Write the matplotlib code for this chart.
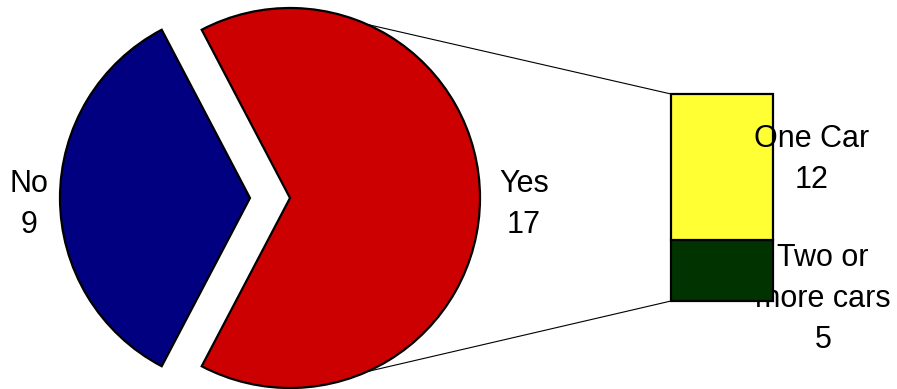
import numpy as np
import matplotlib
matplotlib.use("Agg")
import matplotlib.pyplot as plt
from matplotlib.patches import ConnectionPatch

plt.rcParams['font.family'] = ['Liberation Sans', 'DejaVu Sans']

# Main question: does the household own a car?
pie_labels = ["Yes", "No"]
pie_values = [17, 9]
pie_colors = ["#CC0000", "#000080"]

# Breakdown of the "Yes" answers
bar_labels = ["Two or\nmore cars", "One Car"]
bar_values = [5, 12]
bar_colors = ["#003300", "#FFFF33"]

W, H = 897, 389
fig = plt.figure(figsize=(W / 100, H / 100), dpi=100)
ax = fig.add_axes([0, 0, 1, 1])

center = (270, 191)
radius = 190
total = sum(pie_values)
start = -360 * pie_values[0] / total / 2
wedges, _ = ax.pie(pie_values, colors=pie_colors, center=center, radius=radius,
                   startangle=start, explode=[20, 20], frame=True,
                   wedgeprops=dict(edgecolor="black", linewidth=1.6))
ax.set_xlim(0, W)
ax.set_ylim(0, H)
ax.set_aspect("equal")
ax.axis("off")

fs = 22
PITCH = 41


def stacked_text(axis, x, y_base, text, **kw):
    """Write multi-line text, one baseline every PITCH pixels (y_base is the first line)."""
    for i, line in enumerate(text.split("\n")):
        axis.text(x, H - (y_base + i * PITCH), line, ha="center", va="baseline",
                  fontsize=fs, transform=ax.transData, **kw)


stacked_text(ax, 524, 192, f"{pie_labels[0]}\n{pie_values[0]}")
stacked_text(ax, 29, 192, f"{pie_labels[1]}\n{pie_values[1]}")
# lower bar label sits beneath the bar
stacked_text(ax, 823, 266, f"{bar_labels[0]}\n{bar_values[0]}")

# Stacked bar for the breakdown
bx0, by0, bw, bh = 671, H - 301, 102, 207
bax = fig.add_axes([bx0 / W, by0 / H, bw / W, bh / H])
bottom = 0
for val, col in zip(bar_values, bar_colors):
    bax.bar(0, val, width=1, bottom=bottom, color=col, edgecolor="black",
            linewidth=1.6, clip_on=False)
    bottom += val
bax.set_xlim(-0.5, 0.5)
bax.set_ylim(0, sum(bar_values))
bax.axis("off")

stacked_text(bax, 812, 147, f"{bar_labels[1]}\n{bar_values[1]}", zorder=10)

# Connector lines from the "Yes" wedge to the bar
yes = wedges[0]
cx, cy = yes.center
for ang, yb in [(66, sum(bar_values)), (-66, 0)]:
    pa = (cx + yes.r * np.cos(np.radians(ang)), cy + yes.r * np.sin(np.radians(ang)))
    con = ConnectionPatch(xyA=pa, coordsA=ax.transData, xyB=(-0.5, yb),
                          coordsB=bax.transData, color="black", linewidth=0.8)
    fig.add_artist(con)

fig.savefig("out.png", dpi=100)
